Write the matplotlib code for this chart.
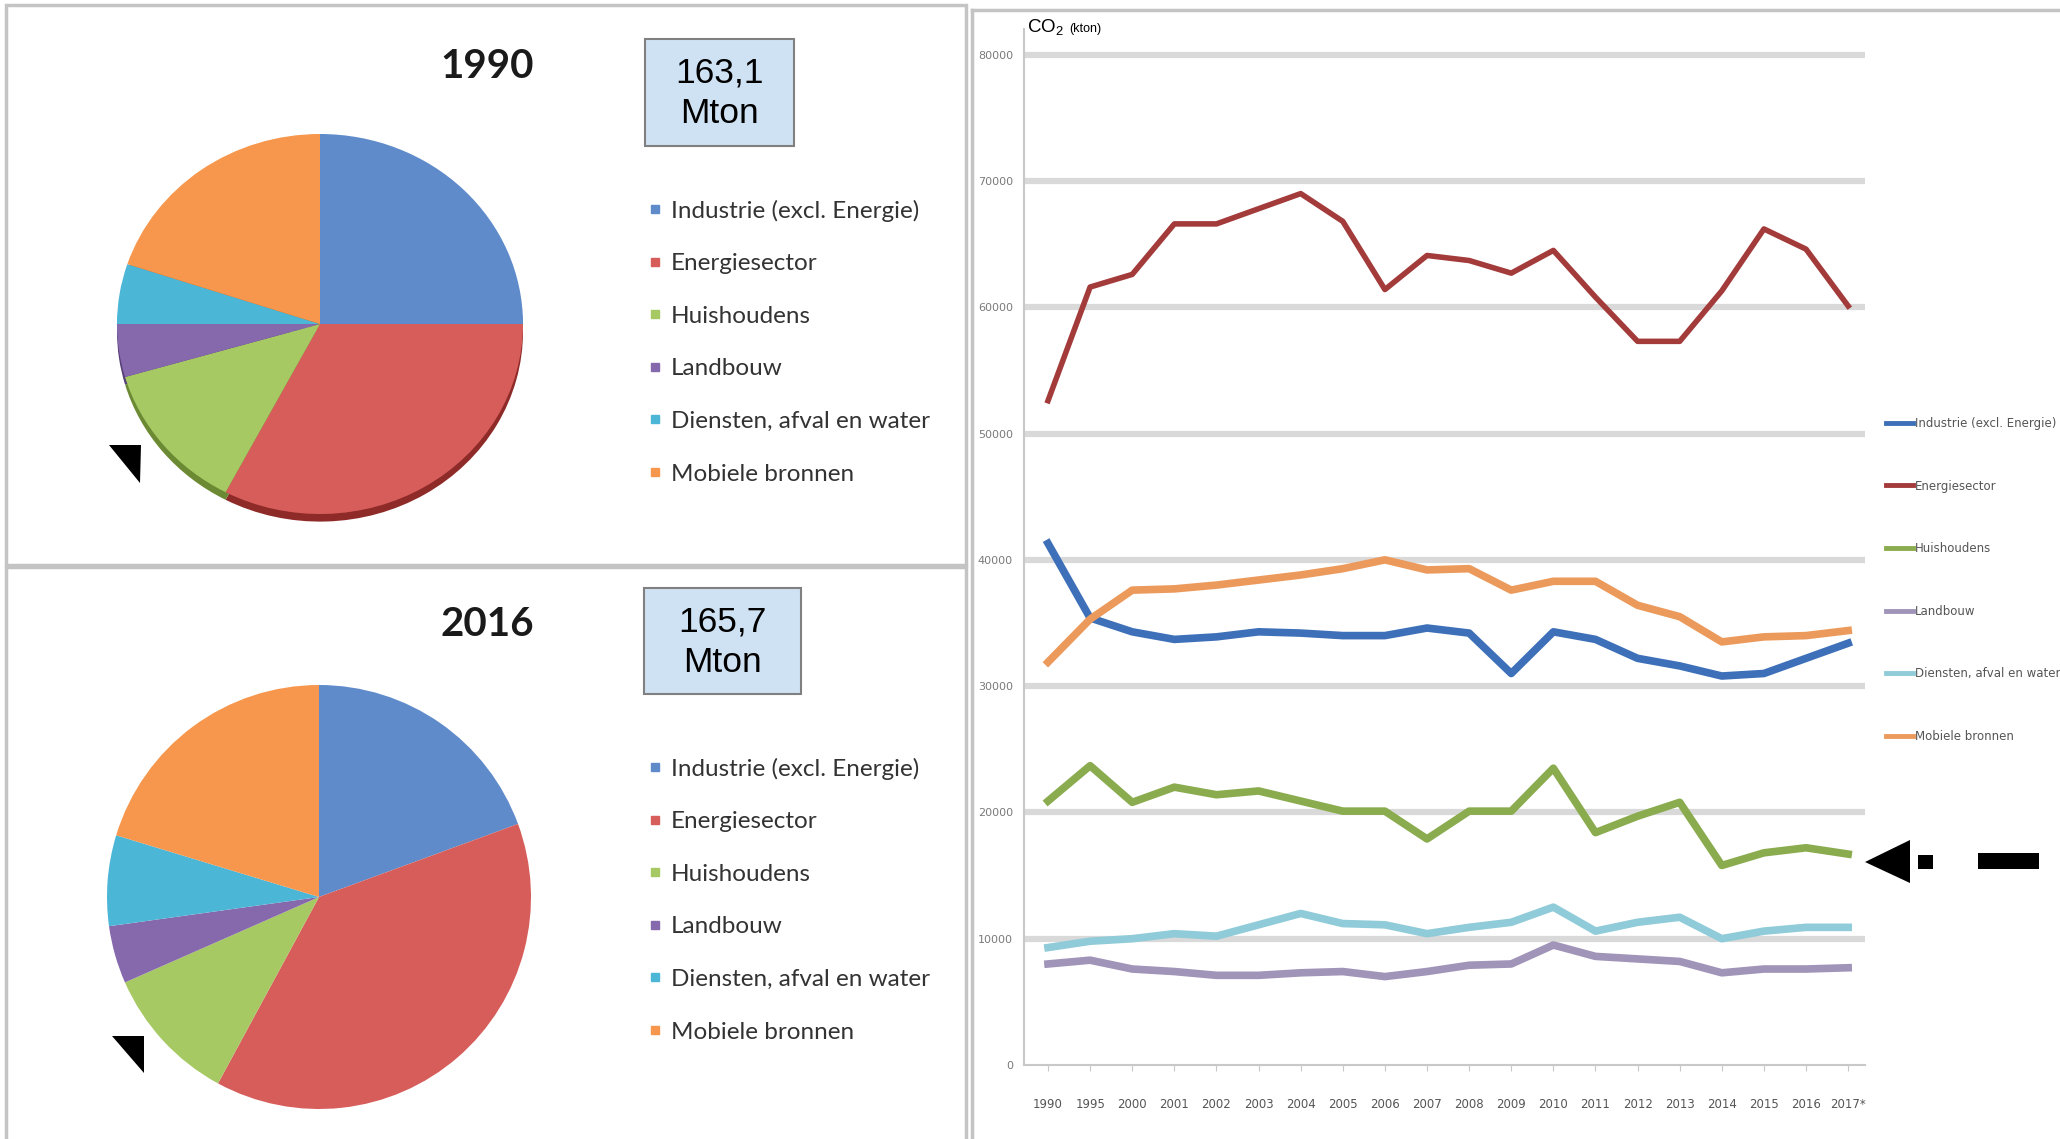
import numpy as np
import matplotlib
matplotlib.use('Agg')
import matplotlib.pyplot as plt
from matplotlib.patches import Rectangle, Polygon
from matplotlib.lines import Line2D

W, H = 2060, 1139

sectors = ['Industrie (excl. Energie)', 'Energiesector', 'Huishoudens', 'Landbouw',
           'Diensten, afval en water', 'Mobiele bronnen']

# pie shares (%)
share_1990 = [25.0, 32.7, 12.8, 4.5, 5.1, 19.9]
share_2016 = [19.4, 38.5, 10.5, 4.4, 6.9, 20.3]
total_1990 = '163,1\nMton'
total_2016 = '165,7\nMton'

# CO2 emissions per sector (kton)
years = ['1990', '1995', '2000', '2001', '2002', '2003', '2004', '2005', '2006', '2007',
         '2008', '2009', '2010', '2011', '2012', '2013', '2014', '2015', '2016', '2017*']
industrie = [41300, 35400, 34300, 33700, 33900, 34300, 34200, 34000, 34000, 34600,
             34200, 31000, 34300, 33700, 32200, 31600, 30800, 31000, 32200, 33400]
energie = [52600, 61600, 62600, 66600, 66600, 67800, 69000, 66800, 61400, 64100,
           63700, 62700, 64500, 60800, 57300, 57300, 61300, 66200, 64600, 60100]
huishoudens = [20900, 23700, 20800, 22000, 21400, 21700, 20900, 20100, 20100, 17900,
               20100, 20100, 23500, 18400, 19700, 20800, 15800, 16800, 17200, 16700]
landbouw = [8000, 8300, 7600, 7400, 7100, 7100, 7300, 7400, 7000, 7400,
            7900, 8000, 9500, 8600, 8400, 8200, 7300, 7600, 7600, 7700]
diensten = [9300, 9800, 10000, 10400, 10200, 11100, 12000, 11200, 11100, 10400,
            10900, 11300, 12500, 10600, 11300, 11700, 10000, 10600, 10900, 10900]
mobiel = [31900, 35300, 37600, 37700, 38000, 38400, 38800, 39300, 40000, 39200,
          39300, 37600, 38300, 38300, 36400, 35500, 33500, 33900, 34000, 34400]

pie_colors = ['#5f8bcb', '#d65d5a', '#a6c963', '#8668ad', '#4cb6d6', '#f6974d']
rim_colors = ['#33578f', '#8e2a28', '#6b8a33', '#57407a', '#2a7f99', '#b8621f']
line_colors = ['#3d70b8', '#a33b3b', '#8aac4f', '#a094b8', '#8fcbd8', '#ec9a5c']


def rect(x0, y0, x1, y1):
    return [x0 / W, 1 - y1 / H, (x1 - x0) / W, (y1 - y0) / H]


def pt(x, y):
    return (x / W, 1 - y / H)


fig = plt.figure(figsize=(W / 100, H / 100), dpi=100)
fig.patch.set_facecolor('white')

# panel frames
for x0, y0, x1, y1 in [(6, 5, 966, 565), (6, 567, 966, 1150)]:
    fig.add_artist(Rectangle(pt(x0, y1), (x1 - x0) / W, (y1 - y0) / H,
                             transform=fig.transFigure, fill=False, ec='#c4c4c4', lw=2.5))
fig.add_artist(Line2D([972 / W, 972 / W], [1 - 10 / H, 0], transform=fig.transFigure,
                      color='#c4c4c4', lw=2.5))
fig.add_artist(Line2D([972 / W, 1], [1 - 10 / H, 1 - 10 / H], transform=fig.transFigure,
                      color='#c4c4c4', lw=2.5))


def draw_pie(cx, cy, rx, ry, shares, title, title_y, total, box, legend_y, rim):
    rx, ry = rx * 1.05, ry * 1.05
    ax = fig.add_axes(rect(cx - rx, cy - ry, cx + rx, cy + ry))
    if rim:
        ax.pie(shares, colors=rim_colors, startangle=90, counterclock=False,
               center=(0, -0.04), wedgeprops=dict(lw=0))
    ax.pie(shares, colors=pie_colors, startangle=90, counterclock=False,
           wedgeprops=dict(lw=0))
    ax.set_aspect('auto')
    ax.set_xlim(-1.05, 1.05)
    ax.set_ylim(-1.05, 1.05)
    ax.axis('off')

    fig.text(*pt(487, title_y), title, fontsize=29, fontweight='bold', family='Lato',
             color='#1a1a1a', ha='center', va='center')

    bx0, by0, bx1, by1 = box
    fig.add_artist(Rectangle(pt(bx0, by1), (bx1 - bx0) / W, (by1 - by0) / H,
                             transform=fig.transFigure, fc='#cfe2f3', ec='#808080', lw=1.5))
    fig.text(*pt((bx0 + bx1) / 2, (by0 + by1) / 2 + 1), total, fontsize=25.5,
             family='Liberation Sans', ha='center', va='center', linespacing=1.3)

    handles = [Line2D([], [], marker='s', ls='', color=c, markersize=6) for c in pie_colors]
    ax.legend(handles, sectors, loc='center left', bbox_to_anchor=pt(648, legend_y),
              bbox_transform=fig.transFigure, frameon=False,
              prop=dict(family='Lato', size=17.5), labelcolor='#333333',
              labelspacing=1.3, handlelength=0.6, handletextpad=0.35,
              borderpad=0, borderaxespad=0)


draw_pie(320, 324, 203, 190, share_1990, '1990', 67, total_1990,
         (645, 39, 794, 146), 342, True)
draw_pie(319, 897, 212, 212, share_2016, '2016', 624, total_2016,
         (644, 588, 801, 694), 900, False)

# line chart
ax = fig.add_axes(rect(1024, 29.4, 1865, 1065))
x = np.arange(len(years))
series = [industrie, energie, huishoudens, landbouw, diensten, mobiel]
widths = [5.5, 4.0, 5.5, 5.5, 5.5, 5.5]
for vals, c, lw in zip(series, line_colors, widths):
    ax.plot(x, vals, color=c, lw=lw)

ax.set_xlim(-0.57, 19.4)
ax.set_ylim(0, 82000)
ax.set_yticks(np.arange(0, 80001, 10000))
ax.set_yticklabels([str(v) for v in range(0, 80001, 10000)], fontsize=8, color='#7a7a7a')
ax.yaxis.grid(True, color='#d9d9d9', lw=4.5)
ax.yaxis.get_gridlines()[0].set_visible(False)
ax.set_axisbelow(True)
for s in ['top', 'right']:
    ax.spines[s].set_visible(False)
for s in ['left', 'bottom']:
    ax.spines[s].set_color('#c8c8c8')
    ax.spines[s].set_linewidth(1.5)
ax.tick_params(axis='y', length=0, pad=8)
ax.set_xticks(x)
ax.set_xticklabels(years, fontsize=8.5, color='#555555')
ax.tick_params(axis='x', length=4, color='#c8c8c8', pad=20)

handles = [Line2D([], [], color=c, lw=3.5) for c in line_colors]
ax.legend(handles, sectors, loc='center left', bbox_to_anchor=pt(1886, 580),
          bbox_transform=fig.transFigure, frameon=False, fontsize=8.5,
          labelcolor='#555555', labelspacing=4.2, handlelength=2.3,
          handletextpad=0.15, borderpad=0, borderaxespad=0)

fig.text(*pt(1027, 32), r'$\mathregular{CO_2}$', fontsize=13.5, family='Liberation Sans',
         va='baseline')
fig.text(*pt(1069, 32), '(kton)', fontsize=9, family='Liberation Sans', va='baseline')

# black pointer marks
for verts in [[(109, 445), (141, 445), (140, 483)],
              [(112, 1036), (144, 1036), (144, 1073)],
              [(1865, 862), (1910, 840), (1910, 883)]]:
    fig.add_artist(Polygon([pt(a, b) for a, b in verts], closed=True,
                           transform=fig.transFigure, fc='black', ec='none'))
for x0, y0, x1, y1 in [(1918, 855, 1933, 869), (1978, 853, 2039, 869)]:
    fig.add_artist(Rectangle(pt(x0, y1), (x1 - x0) / W, (y1 - y0) / H,
                             transform=fig.transFigure, fc='black', ec='none'))

fig.savefig('out.png', dpi=100)
